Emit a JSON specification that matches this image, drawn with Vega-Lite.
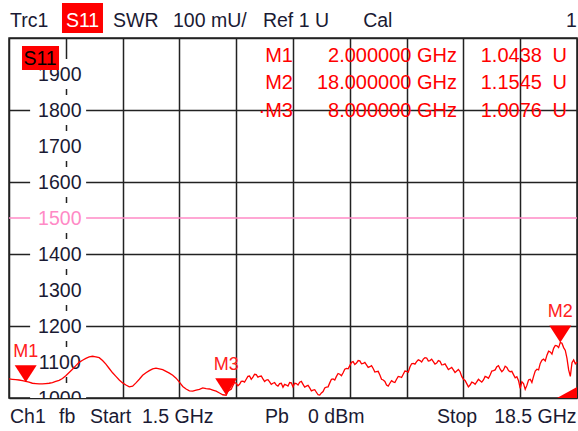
{
 "$schema": "https://vega.github.io/schema/vega-lite/v6.json",
 "width": 568, "height": 360,
 "autosize": {"type": "none"},
 "padding": {"left": 9, "top": 38, "right": 1, "bottom": 33},
 "background": "white",
 "config": {
  "font": "Liberation Sans",
  "view": {"stroke": "#222", "strokeWidth": 1.5},
  "axis": {"labels": false, "ticks": false, "domain": false, "titleColor": "transparent", "grid": true, "gridColor": "#222", "gridWidth": 1.5, "gridOpacity": 1}
 },
 "datasets": {
  "trace": [
   {"f":1.5,"v":1053},{"f":1.6,"v":1052},{"f":1.7,"v":1051},{"f":1.8,"v":1050},{"f":1.9,"v":1048},{"f":2.0,"v":1046},{"f":2.1,"v":1044},{"f":2.2,"v":1041},{"f":2.3,"v":1040},{"f":2.4,"v":1039},
   {"f":2.5,"v":1039},{"f":2.6,"v":1040},{"f":2.7,"v":1041},{"f":2.8,"v":1043},{"f":2.9,"v":1046},{"f":3.0,"v":1049},{"f":3.1,"v":1054},{"f":3.2,"v":1062},{"f":3.3,"v":1071},{"f":3.4,"v":1080},
   {"f":3.5,"v":1090},{"f":3.6,"v":1099},{"f":3.7,"v":1105},{"f":3.8,"v":1110},{"f":3.9,"v":1114},{"f":4.0,"v":1116},{"f":4.1,"v":1114},{"f":4.2,"v":1112},{"f":4.3,"v":1104},{"f":4.4,"v":1094},
   {"f":4.5,"v":1082},{"f":4.6,"v":1070},{"f":4.7,"v":1060},{"f":4.8,"v":1050},{"f":4.9,"v":1042},{"f":5.0,"v":1036},{"f":5.1,"v":1031},{"f":5.2,"v":1033},{"f":5.3,"v":1042},{"f":5.4,"v":1052},
   {"f":5.5,"v":1063},{"f":5.6,"v":1070},{"f":5.7,"v":1076},{"f":5.8,"v":1081},{"f":5.9,"v":1083},{"f":6.0,"v":1081},{"f":6.1,"v":1079},{"f":6.2,"v":1074},{"f":6.3,"v":1069},{"f":6.4,"v":1063},
   {"f":6.5,"v":1055},{"f":6.6,"v":1044},{"f":6.7,"v":1032},{"f":6.8,"v":1025},{"f":6.9,"v":1020},{"f":7.0,"v":1019},{"f":7.1,"v":1022},{"f":7.2,"v":1024},{"f":7.3,"v":1028},{"f":7.4,"v":1026},
   {"f":7.5,"v":1025},{"f":7.6,"v":1022},{"f":7.7,"v":1019},{"f":7.8,"v":1014},{"f":7.9,"v":1009},{"f":8.0,"v":1007.6},{"f":8.1,"v":1022},{"f":8.2,"v":1034},{"f":8.3,"v":1041},{"f":8.4,"v":1038},
   {"f":8.5,"v":1047},{"f":8.6,"v":1052},{"f":8.7,"v":1061},{"f":8.8,"v":1058},{"f":8.9,"v":1065},{"f":9.0,"v":1060},{"f":9.1,"v":1053},{"f":9.2,"v":1050},{"f":9.3,"v":1045},{"f":9.4,"v":1041},
   {"f":9.5,"v":1036},{"f":9.6,"v":1040},{"f":9.7,"v":1030},{"f":9.8,"v":1036},{"f":9.9,"v":1043},{"f":10.0,"v":1031},{"f":10.1,"v":1040},{"f":10.2,"v":1044},{"f":10.3,"v":1038},{"f":10.4,"v":1033},
   {"f":10.5,"v":1028},{"f":10.6,"v":1022},{"f":10.7,"v":1016},{"f":10.8,"v":1008},{"f":10.9,"v":1018},{"f":11.0,"v":1030},{"f":11.1,"v":1042},{"f":11.2,"v":1053},{"f":11.3,"v":1060},{"f":11.4,"v":1066},
   {"f":11.5,"v":1070},{"f":11.6,"v":1082},{"f":11.7,"v":1090},{"f":11.8,"v":1101},{"f":11.9,"v":1097},{"f":12.0,"v":1103},{"f":12.1,"v":1096},{"f":12.2,"v":1092},{"f":12.3,"v":1087},{"f":12.4,"v":1082},
   {"f":12.5,"v":1073},{"f":12.6,"v":1064},{"f":12.7,"v":1050},{"f":12.8,"v":1036},{"f":12.9,"v":1041},{"f":13.0,"v":1045},{"f":13.1,"v":1052},{"f":13.2,"v":1059},{"f":13.3,"v":1066},{"f":13.4,"v":1074},
   {"f":13.5,"v":1086},{"f":13.6,"v":1096},{"f":13.7,"v":1101},{"f":13.8,"v":1104},{"f":13.9,"v":1108},{"f":14.0,"v":1111},{"f":14.1,"v":1104},{"f":14.2,"v":1101},{"f":14.3,"v":1097},{"f":14.4,"v":1102},
   {"f":14.5,"v":1093},{"f":14.6,"v":1087},{"f":14.7,"v":1082},{"f":14.8,"v":1078},{"f":14.9,"v":1075},{"f":15.0,"v":1073},{"f":15.1,"v":1052},{"f":15.2,"v":1040},{"f":15.3,"v":1036},{"f":15.4,"v":1042},
   {"f":15.5,"v":1045},{"f":15.6,"v":1048},{"f":15.7,"v":1050},{"f":15.8,"v":1058},{"f":15.9,"v":1064},{"f":16.0,"v":1076},{"f":16.1,"v":1087},{"f":16.2,"v":1080},{"f":16.3,"v":1078},{"f":16.4,"v":1085},
   {"f":16.5,"v":1073},{"f":16.6,"v":1065},{"f":16.7,"v":1059},{"f":16.8,"v":1027},{"f":16.9,"v":1040},{"f":17.0,"v":1035},{"f":17.1,"v":1052},{"f":17.2,"v":1060},{"f":17.3,"v":1080},{"f":17.4,"v":1096},
   {"f":17.5,"v":1108},{"f":17.6,"v":1119},{"f":17.7,"v":1128},{"f":17.8,"v":1138},{"f":17.9,"v":1145},{"f":18.0,"v":1154.5},{"f":18.1,"v":1140},{"f":18.2,"v":1110},{"f":18.3,"v":1060},{"f":18.4,"v":1106},
   {"f":18.5,"v":1100},
   {"f":8.05,"v":1018},{"f":8.15,"v":1024},{"f":8.25,"v":1043},{"f":8.35,"v":1034},{"f":8.45,"v":1046},{"f":8.55,"v":1044},{"f":8.65,"v":1060},{"f":8.75,"v":1052},{"f":8.85,"v":1066},{"f":8.95,"v":1058},
   {"f":9.05,"v":1061},{"f":9.15,"v":1046},{"f":9.25,"v":1051},{"f":9.35,"v":1038},{"f":9.45,"v":1043},{"f":9.55,"v":1033},{"f":9.65,"v":1041},{"f":9.75,"v":1038},{"f":9.85,"v":1033},{"f":9.95,"v":1042},
   {"f":10.05,"v":1041},{"f":10.15,"v":1036},{"f":10.25,"v":1046},{"f":10.35,"v":1030},{"f":10.45,"v":1035},{"f":10.55,"v":1020},{"f":10.65,"v":1023},{"f":10.75,"v":1009},{"f":10.85,"v":1014},{"f":10.95,"v":1028},
   {"f":11.05,"v":1031},{"f":11.15,"v":1052},{"f":11.25,"v":1050},{"f":11.35,"v":1068},{"f":11.45,"v":1062},{"f":11.55,"v":1080},{"f":11.65,"v":1081},{"f":11.75,"v":1099},{"f":11.85,"v":1093},{"f":11.95,"v":1104},
   {"f":12.05,"v":1095},{"f":12.15,"v":1099},{"f":12.25,"v":1085},{"f":12.35,"v":1090},{"f":12.45,"v":1072},{"f":12.55,"v":1074},{"f":12.65,"v":1052},{"f":12.75,"v":1046},{"f":12.85,"v":1033},{"f":12.95,"v":1048},
   {"f":13.05,"v":1043},{"f":13.15,"v":1060},{"f":13.25,"v":1057},{"f":13.35,"v":1075},{"f":13.45,"v":1072},{"f":13.55,"v":1095},{"f":13.65,"v":1094},{"f":13.75,"v":1106},{"f":13.85,"v":1100},{"f":13.95,"v":1112},
   {"f":14.05,"v":1103},{"f":14.15,"v":1108},{"f":14.25,"v":1094},{"f":14.35,"v":1104},{"f":14.45,"v":1092},{"f":14.55,"v":1095},{"f":14.65,"v":1079},{"f":14.75,"v":1085},{"f":14.85,"v":1071},{"f":14.95,"v":1079},
   {"f":15.05,"v":1060},{"f":15.15,"v":1049},{"f":15.25,"v":1031},{"f":15.35,"v":1044},{"f":15.45,"v":1038},{"f":15.55,"v":1052},{"f":15.65,"v":1044},{"f":15.75,"v":1060},{"f":15.85,"v":1055},{"f":15.95,"v":1075},
   {"f":16.05,"v":1078},{"f":16.15,"v":1090},{"f":16.25,"v":1073},{"f":16.35,"v":1088},{"f":16.45,"v":1076},{"f":16.55,"v":1074},{"f":16.65,"v":1056},{"f":16.75,"v":1048},{"f":16.85,"v":1045},{"f":16.95,"v":1024},
   {"f":17.05,"v":1050},{"f":17.15,"v":1043},{"f":17.25,"v":1075},{"f":17.35,"v":1078},{"f":17.45,"v":1105},{"f":17.55,"v":1103},{"f":17.65,"v":1130},{"f":17.75,"v":1122},{"f":17.85,"v":1146},{"f":17.95,"v":1140},
   {"f":18.05,"v":1152},{"f":18.15,"v":1132},{"f":18.25,"v":1078},{"f":18.35,"v":1098},{"f":18.45,"v":1095}
  ],
  "ylab": [{"v":1900},{"v":1800},{"v":1700},{"v":1600},{"v":1500},{"v":1400},{"v":1300},{"v":1200},{"v":1100},{"v":1000}],
  "hdr": [{"t":"Trc1","f":1.53},{"t":"SWR","f":4.613},{"t":"100 mU/","f":6.409},{"t":"Ref 1 U","f":9.1},{"t":"Cal","f":12.1},{"t":"1","f":18.17}],
  "ftr": [{"t":"Ch1","f":1.53},{"t":"fb","f":2.997},{"t":"Start","f":3.924},{"t":"1.5 GHz","f":5.48},{"t":"Pb","f":9.16},{"t":"0 dBm","f":10.45},{"t":"Stop","f":14.31},{"t":"18.5 GHz","f":16.02}],
  "mk": [
   {"m":"M1","lab":"M1","fq":"2.000000 GHz","val":"1.0438","f":2,"v":1043.8,"ty":1934.2},
   {"m":"M2","lab":"M2","fq":"18.000000 GHz","val":"1.1545","f":18,"v":1154.5,"ty":1857.5},
   {"m":"M3","lab":"·M3","fq":"8.000000 GHz","val":"1.0076","f":8,"v":1007.6,"ty":1779.7}
  ]
 },
 "layer": [
  {
   "data": {"values": [{}]},
   "mark": {"type": "rule", "color": "#ff8ac6", "strokeWidth": 1.5},
   "encoding": {"y": {"datum": 1500, "type": "quantitative"}}
  },
  {
   "data": {"name": "ylab"},
   "mark": {"type": "point", "shape": "M-1,-0.536H1V0.536H-1Z", "size": 3136, "filled": true, "color": "white", "opacity": 1, "strokeWidth": 0, "clip": true},
   "encoding": {"x": {"datum": 2.97, "type": "quantitative"}, "y": {"field": "v", "type": "quantitative"}}
  },
  {
   "data": {"name": "ylab"},
   "mark": {"type": "text", "align": "center", "baseline": "alphabetic", "dy": 7, "fontSize": 19.5, "clip": true},
   "encoding": {
    "x": {"datum": 3.02, "type": "quantitative"},
    "y": {"field": "v", "type": "quantitative"},
    "text": {"field": "v", "type": "nominal"},
    "color": {"condition": {"test": "datum.v == 1500", "value": "#ff8ac6"}, "value": "#1a1a33"}
   }
  },
  {
   "data": {"name": "trace"},
   "mark": {"type": "line", "color": "#ff0000", "strokeWidth": 1.3},
   "encoding": {
    "x": {"field": "f", "type": "quantitative", "scale": {"domain": [1.5, 18.5], "nice": false, "zero": false}, "axis": {"values": [1.5, 3.2, 4.9, 6.6, 8.3, 10, 11.7, 13.4, 15.1, 16.8, 18.5]}},
    "y": {"field": "v", "type": "quantitative", "scale": {"domain": [1000, 2000], "nice": false, "zero": false}, "axis": {"values": [1000, 1100, 1200, 1300, 1400, 1500, 1600, 1700, 1800, 1900, 2000]}}
   }
  },
  {
   "data": {"values": [{}]},
   "mark": {"type": "rect", "color": "#ff0000"},
   "encoding": {
    "x": {"datum": 1.889, "type": "quantitative"}, "x2": {"datum": 2.997},
    "y": {"datum": 1977.8, "type": "quantitative"}, "y2": {"datum": 1911.1}
   }
  },
  {
   "data": {"values": [{}]},
   "mark": {"type": "text", "text": "S11", "align": "center", "baseline": "alphabetic", "fontSize": 19.5, "color": "#000000"},
   "encoding": {"x": {"datum": 2.43, "type": "quantitative"}, "y": {"datum": 1925, "type": "quantitative"}}
  },
  {
   "data": {"values": [{}]},
   "mark": {"type": "rect", "color": "#ff0000"},
   "encoding": {
    "x": {"datum": 3.086, "type": "quantitative"}, "x2": {"datum": 4.313},
    "y": {"datum": 2097.2, "type": "quantitative"}, "y2": {"datum": 2013.9}
   }
  },
  {
   "data": {"values": [{}]},
   "mark": {"type": "text", "text": "S11", "align": "center", "baseline": "alphabetic", "fontSize": 19.5, "color": "#ffffff"},
   "encoding": {"x": {"datum": 3.70, "type": "quantitative"}, "y": {"datum": 2031.4, "type": "quantitative"}}
  },
  {
   "data": {"name": "hdr"},
   "mark": {"type": "text", "align": "left", "baseline": "alphabetic", "fontSize": 19.5, "color": "#1a1a33"},
   "encoding": {"x": {"field": "f", "type": "quantitative"}, "y": {"datum": 2031.4, "type": "quantitative"}, "text": {"field": "t"}}
  },
  {
   "data": {"name": "ftr"},
   "mark": {"type": "text", "align": "left", "baseline": "alphabetic", "fontSize": 19.5, "color": "#1a1a33"},
   "encoding": {"x": {"field": "f", "type": "quantitative"}, "y": {"datum": 930.6, "type": "quantitative"}, "text": {"field": "t"}}
  },
  {
   "data": {"name": "mk"},
   "mark": {"type": "text", "align": "right", "baseline": "alphabetic", "fontSize": 20, "color": "#ff0000"},
   "encoding": {"x": {"datum": 10.0, "type": "quantitative"}, "y": {"field": "ty", "type": "quantitative"}, "text": {"field": "lab"}}
  },
  {
   "data": {"name": "mk"},
   "mark": {"type": "text", "align": "right", "baseline": "alphabetic", "fontSize": 20, "color": "#ff0000"},
   "encoding": {"x": {"datum": 14.91, "type": "quantitative"}, "y": {"field": "ty", "type": "quantitative"}, "text": {"field": "fq"}}
  },
  {
   "data": {"name": "mk"},
   "mark": {"type": "text", "align": "right", "baseline": "alphabetic", "fontSize": 20, "color": "#ff0000"},
   "encoding": {"x": {"datum": 17.45, "type": "quantitative"}, "y": {"field": "ty", "type": "quantitative"}, "text": {"field": "val"}}
  },
  {
   "data": {"name": "mk"},
   "mark": {"type": "text", "align": "right", "baseline": "alphabetic", "fontSize": 20, "color": "#ff0000", "text": "U"},
   "encoding": {"x": {"datum": 18.2, "type": "quantitative"}, "y": {"field": "ty", "type": "quantitative"}}
  },
  {
   "data": {"name": "mk"},
   "mark": {"type": "point", "shape": "M-1,-1.545L1,-1.545L0,0Z", "size": 484, "filled": true, "color": "#ff0000", "opacity": 1, "strokeWidth": 0},
   "encoding": {"x": {"field": "f", "type": "quantitative"}, "y": {"field": "v", "type": "quantitative"}}
  },
  {
   "data": {"name": "mk"},
   "mark": {"type": "text", "align": "center", "baseline": "alphabetic", "dy": -25, "fontSize": 18, "color": "#ff2020"},
   "encoding": {"x": {"field": "f", "type": "quantitative"}, "y": {"field": "v", "type": "quantitative"}, "text": {"field": "m"}}
  },
  {
   "data": {"values": [{}]},
   "mark": {"type": "point", "shape": "M0,0L0,-1.1L-2,0Z", "size": 400, "filled": true, "color": "#ff0000", "opacity": 1, "strokeWidth": 0},
   "encoding": {"x": {"datum": 18.5, "type": "quantitative"}, "y": {"datum": 1000, "type": "quantitative"}}
  }
 ]
}
